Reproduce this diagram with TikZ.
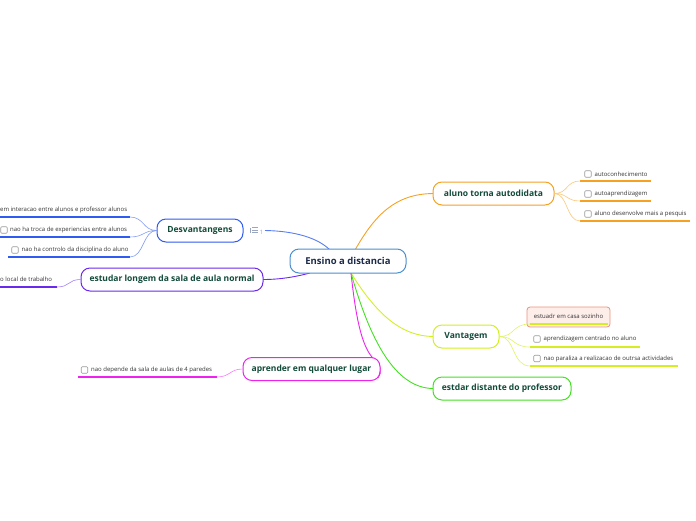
\documentclass[tikz,border=0pt]{standalone}
\usepackage{fontspec}
\setmainfont{Open Sans}
\definecolor{tgreen}{HTML}{124A3A}
\definecolor{cnavy}{HTML}{1C2B4A}
\definecolor{cblue}{HTML}{4A90D0}
\definecolor{dblue}{HTML}{2F5BF0}
\definecolor{orng}{HTML}{F5A122}
\definecolor{purp}{HTML}{6A2AEE}
\definecolor{magn}{HTML}{EE22EE}
\definecolor{ylw}{HTML}{D4EE22}
\definecolor{grn}{HTML}{44E022}
\definecolor{leafc}{HTML}{333333}
\definecolor{pinkf}{HTML}{FDEEEA}
\definecolor{salmon}{HTML}{E8947E}
\definecolor{icong}{HTML}{9AA6C0}
\tikzset{
  topic/.style={draw, line width=1pt, rounded corners=9pt, minimum height=23pt, inner sep=0pt,
    font=\fontsize{8.5}{10}\selectfont\bfseries, text=tgreen, fill=white},
  leaf/.style={font=\fontsize{6}{7}\selectfont, text=leafc, anchor=west, inner sep=0pt},
  chk/.style={draw=gray!80, line width=0.6pt, rounded corners=1pt, minimum size=6.5pt, inner sep=0pt},
  uline/.style={line width=2pt},
  conn/.style={line width=0.9pt},
  lconn/.style={line width=0.6pt}
}
\begin{document}
\begin{tikzpicture}[x=1pt,y=-1pt]
\useasboundingbox (0,0) rectangle (696,520);
% ---------- central connectors (drawn first) ----------
\coordinate (cA) at (330,250);
\coordinate (cB) at (355,250);
\coordinate (cC) at (310,273);
\coordinate (cD) at (351,273);
\coordinate (ic) at (265,230.5);
\draw[conn, dblue!80] (ic) .. controls (295,231) and (318,238) .. (cA);
\draw[conn, orng] (cB) .. controls (375,215) and (395,194) .. (433,193.5);
\draw[conn, purp] (cC) .. controls (295,277) and (280,279.5) .. (263,279.5);
\draw[conn, magn] (cD) .. controls (356,320) and (362,345) .. (372,357) .. controls (382,366) and (382,372) .. (378,378);
\draw[conn, ylw] (cD) .. controls (380,320) and (405,336) .. (433,336.5);
\draw[conn, grn] (cD) .. controls (370,340) and (395,388) .. (433,388.5);
% ---------- central ----------
\node[topic, draw=cblue, text=cnavy, minimum width=116pt, minimum height=24pt, font=\fontsize{9.5}{11}\selectfont\bfseries] (central) at (348,261) {Ensino a distancia};
% ---------- Desvantangens ----------
\node[topic, draw=dblue, minimum width=86pt] (des) at (200,230.5) {Desvantangens};
\draw[icong, line width=0.7pt] (252,227.5) -- (258,227.5) (252,230) -- (258,230) (252,232.5) -- (258,232.5);
\draw[icong, line width=0.7pt] (250.5,227.5) -- (250.5,232.5);
\node[font=\fontsize{6}{7}\selectfont, text=icong, inner sep=0pt] (icn) at (261.5,232) {1};
\node[leaf] (d1) at (0,209.5) {em interacao entre alunos e professor alunos};
\coordinate (d1a) at (0,217); \coordinate (d1b) at (130,217);
\draw[uline, dblue] (d1a) -- (d1b);
\node[chk] (d2c) at (4,230) {};
\node[leaf] (d2) at (10,230) {nao ha troca de experiencias entre alunos};
\coordinate (d2a) at (0,237); \coordinate (d2b) at (130,237);
\draw[uline, dblue] (d2a) -- (d2b);
\node[chk] (d3c) at (15,250) {};
\node[leaf] (d3) at (21.5,250) {nao ha controlo da disciplina do aluno};
\coordinate (d3a) at (8,257); \coordinate (d3b) at (130,257);
\draw[uline, dblue] (d3a) -- (d3b);
\draw[lconn, dblue!60] (des.west) .. controls (143,230.5) and (144,217) .. (d1b);
\draw[lconn, dblue!60] (des.west) .. controls (143,230.5) and (144,237) .. (d2b);
\draw[lconn, dblue!60] (des.west) .. controls (143,230.5) and (144,257) .. (d3b);
% ---------- estudar longem ----------
\node[topic, draw=purp, minimum width=182pt] (est) at (172,279.5) {estudar longem da sala de aula normal};
\node[leaf] (e1) at (0,279.5) {o local de trabalho};
\coordinate (e1a) at (0,287); \coordinate (e1b) at (57,287);
\draw[uline, purp] (e1a) -- (e1b);
\draw[lconn, purp!60] (est.west) .. controls (68,279.5) and (70,287) .. (e1b);
% ---------- aprender ----------
\node[topic, draw=magn, minimum width=137pt] (apr) at (311.5,369) {aprender em qualquer lugar};
\node[chk] (a1c) at (84.5,370) {};
\node[leaf] (a1) at (91,370) {nao depende da sala de aulas de 4 paredes};
\coordinate (a1a) at (78,377); \coordinate (a1b) at (217,377);
\draw[uline, magn] (a1a) -- (a1b);
\draw[lconn, magn!60] (apr.west) .. controls (230,369) and (230,377) .. (a1b);
% ---------- aluno torna autodidata ----------
\node[topic, draw=orng, minimum width=121pt] (alu) at (493.5,193.5) {aluno torna autodidata};
\node[chk] (o1c) at (588,174) {};
\node[leaf] (o1) at (594.5,174) {autoconhecimento};
\coordinate (o1a) at (580,181); \coordinate (o1b) at (651,181);
\draw[uline, orng] (o1a) -- (o1b);
\node[chk] (o2c) at (588,194) {};
\node[leaf] (o2) at (594.5,194) {autoaprendizagem};
\coordinate (o2a) at (580,201); \coordinate (o2b) at (651,201);
\draw[uline, orng] (o2a) -- (o2b);
\node[chk] (o3c) at (588,214) {};
\node[leaf] (o3) at (594.5,214) {aluno desenvolve mais a pesquis};
\coordinate (o3a) at (580,221); \coordinate (o3b) at (690,221);
\draw[uline, orng] (o3a) -- (o3b);
\draw[lconn, orng!60] (alu.east) .. controls (568,193.5) and (566,181) .. (o1a);
\draw[lconn, orng!60] (alu.east) .. controls (568,193.5) and (566,201) .. (o2a);
\draw[lconn, orng!60] (alu.east) .. controls (568,193.5) and (566,221) .. (o3a);
% ---------- Vantagem ----------
\node[topic, draw=ylw, minimum width=66pt] (van) at (466,336.5) {Vantagem};
\node[draw=salmon, fill=pinkf, rounded corners=3pt, line width=0.8pt, minimum width=83pt, minimum height=20pt, inner sep=0pt] (v1box) at (568.5,317) {};
\node[leaf, anchor=center] (v1) at (568.5,316) {estuadr em casa sozinho};
\coordinate (v1a) at (530,324); \coordinate (v1b) at (608,324);
\draw[uline, ylw] (v1a) -- (v1b);
\node[chk] (v2c) at (537,339) {};
\node[leaf] (v2) at (543.5,339) {aprendizagem centrado no aluno};
\coordinate (v2a) at (530,347); \coordinate (v2b) at (640,347);
\draw[uline, ylw] (v2a) -- (v2b);
\node[chk] (v3c) at (537,358.5) {};
\node[leaf] (v3) at (543.5,358.5) {nao paraliza a realizacao de outrsa actividades};
\coordinate (v3a) at (530,366); \coordinate (v3b) at (678,366);
\draw[uline, ylw] (v3a) -- (v3b);
\draw[lconn, ylw!70] (van.east) .. controls (515,336.5) and (512,324) .. (v1a);
\draw[lconn, ylw!70] (van.east) .. controls (515,336.5) and (512,347) .. (v2a);
\draw[lconn, ylw!70] (van.east) .. controls (515,336.5) and (512,366) .. (v3a);
% ---------- estdar distante ----------
\node[topic, draw=grn, minimum width=138pt] (dis) at (502,388.5) {estdar distante do professor};
\end{tikzpicture}
\end{document}
